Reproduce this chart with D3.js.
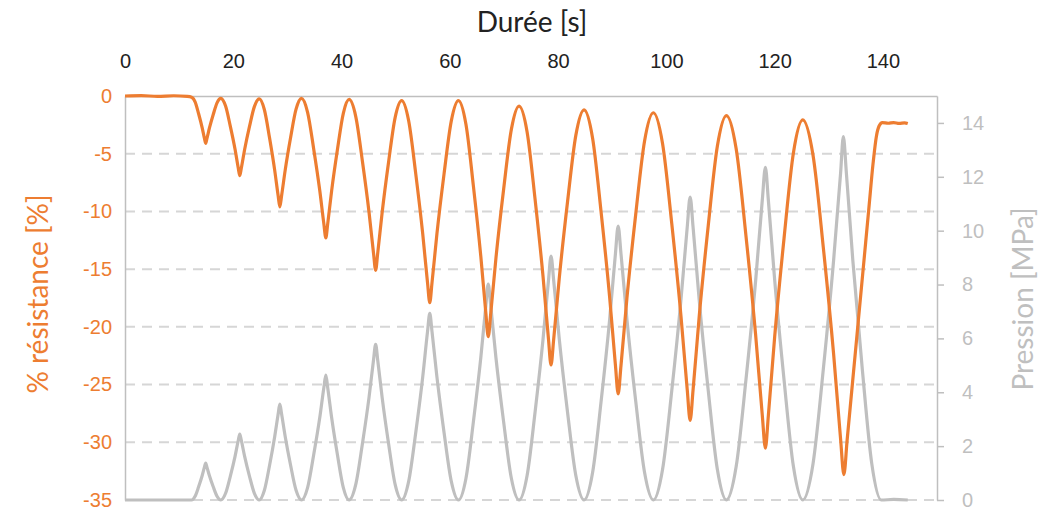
<!DOCTYPE html>
<html>
<head>
<meta charset="utf-8">
<script src="https://cdn.jsdelivr.net/npm/d3@7"></script>
<style>
    body { margin: 0; background: #fff; }
    svg { font-family: Lato, "Liberation Sans", sans-serif; }
</style>
</head>
<body>
<div id="chart"></div>
<script>
// time [s] and % résistance
const resistanceTime = [
    0, 3, 6, 9, 11.5, 12.3,
    12.95, 13.6, 14.25, 14.69, 14.9, 15.12, 15.6, 16.3, 17.0, 17.7,
    18.58, 19.45, 20.33, 20.92, 21.2, 21.49, 22.1, 23.0, 23.9, 24.8,
    25.75, 26.7, 27.65, 28.3, 28.6, 28.92, 29.6, 30.6, 31.6, 32.6,
    33.73, 34.85, 35.98, 36.74, 37.1, 37.44, 38.17, 39.25, 40.33, 41.4,
    42.63, 43.85, 45.08, 45.91, 46.3, 46.68, 47.5, 48.7, 49.9, 51.1,
    52.4, 53.7, 55.0, 55.88, 56.3, 56.72, 57.62, 58.95, 60.28, 61.6,
    62.98, 64.35, 65.73, 66.66, 67.1, 67.56, 68.52, 69.95, 71.38, 72.8,
    74.28, 75.75, 77.23, 78.23, 78.7, 79.19, 80.22, 81.75, 83.28, 84.8,
    86.38, 87.95, 89.53, 90.6, 91.1, 91.62, 92.72, 94.35, 95.98, 97.6,
    99.3, 101.0, 102.7, 103.86, 104.4, 104.94, 106.07, 107.75, 109.43, 111.1,
    112.9, 114.7, 116.5, 117.72, 118.3, 118.85, 120.02, 121.75, 123.48, 125.2,
    127.1, 129.0, 130.9, 132.19, 132.8, 133.4, 134.4, 135.4, 136.4, 137.4,
    138.2, 138.8, 139.3, 139.9, 141.0, 142.0, 143.0, 144.0, 144.6
];
const resistance = [
    0, 0.03, -0.03, 0.02, -0.03, -0.1,
    -0.5, -1.54, -2.74, -3.7, -4.1, -3.71, -2.77, -1.6, -0.59, -0.2,
    -0.87, -2.61, -4.62, -6.23, -6.9, -6.24, -4.64, -2.64, -0.92, -0.25,
    -1.19, -3.62, -6.42, -8.67, -9.6, -8.66, -6.4, -3.58, -1.14, -0.2,
    -1.41, -4.56, -8.19, -11.09, -12.3, -11.1, -8.22, -4.62, -1.5, -0.3,
    -1.78, -5.63, -10.07, -13.62, -15.1, -13.63, -10.1, -5.69, -1.87, -0.4,
    -2.15, -6.7, -11.95, -16.15, -17.9, -16.15, -11.95, -6.7, -2.15, -0.4,
    -2.45, -7.76, -13.9, -18.81, -20.85, -18.85, -14.06, -8.06, -2.87, -0.87,
    -3.11, -8.94, -15.67, -21.06, -23.3, -21.09, -15.79, -9.16, -3.41, -1.2,
    -3.66, -10.06, -17.44, -23.34, -25.8, -23.37, -17.52, -10.22, -3.89, -1.45,
    -4.12, -11.04, -19.04, -25.44, -28.1, -25.46, -19.12, -11.2, -4.34, -1.7,
    -4.58, -12.07, -20.71, -27.62, -30.5, -27.66, -20.83, -12.3, -4.91, -2.07,
    -5.14, -13.13, -22.35, -29.73, -32.8, -29.8, -24.8, -19.8, -14.8, -9.8,
    -5.8, -3.5, -2.6, -2.3, -2.36, -2.3, -2.38, -2.32, -2.38
];

// time [s] and pression [MPa]
const pressureTime = [
    0, 6, 12.3,
    12.95, 13.6, 14.25, 14.69, 14.9, 15.12, 15.6, 16.3, 17.0, 17.7,
    18.58, 19.45, 20.33, 20.92, 21.2, 21.49, 22.1, 23.0, 23.9, 24.8,
    25.75, 26.7, 27.65, 28.3, 28.6, 28.92, 29.6, 30.6, 31.6, 32.6,
    33.73, 34.85, 35.98, 36.74, 37.1, 37.44, 38.17, 39.25, 40.33, 41.4,
    42.63, 43.85, 45.08, 45.91, 46.3, 46.68, 47.5, 48.7, 49.9, 51.1,
    52.4, 53.7, 55.0, 55.88, 56.3, 56.72, 57.62, 58.95, 60.28, 61.6,
    62.98, 64.35, 65.73, 66.66, 67.1, 67.56, 68.52, 69.95, 71.38, 72.8,
    74.28, 75.75, 77.23, 78.23, 78.7, 79.19, 80.22, 81.75, 83.28, 84.8,
    86.38, 87.95, 89.53, 90.6, 91.1, 91.62, 92.72, 94.35, 95.98, 97.6,
    99.3, 101.0, 102.7, 103.86, 104.4, 104.94, 106.07, 107.75, 109.43, 111.1,
    112.9, 114.7, 116.5, 117.72, 118.3, 118.85, 120.02, 121.75, 123.48, 125.2,
    127.1, 129.0, 130.9, 132.19, 132.7, 133.26, 134.45, 136.2, 137.95, 139.7,
    142.0, 144.6
];
const pressure = [
    0, 0, 0,
    0.14, 0.49, 0.9, 1.23, 1.37, 1.23, 0.9, 0.49, 0.14, 0,
    0.25, 0.88, 1.62, 2.21, 2.45, 2.21, 1.62, 0.88, 0.25, 0,
    0.36, 1.28, 2.35, 3.2, 3.56, 3.2, 2.35, 1.28, 0.36, 0,
    0.46, 1.67, 3.06, 4.18, 4.64, 4.18, 3.06, 1.67, 0.46, 0,
    0.58, 2.08, 3.81, 5.2, 5.78, 5.2, 3.81, 2.08, 0.58, 0,
    0.69, 2.49, 4.57, 6.24, 6.93, 6.24, 4.57, 2.49, 0.69, 0,
    0.8, 2.89, 5.29, 7.22, 8.02, 7.22, 5.29, 2.89, 0.8, 0,
    0.91, 3.26, 5.98, 8.15, 9.06, 8.15, 5.98, 3.26, 0.91, 0,
    1.02, 3.66, 6.71, 9.15, 10.17, 9.15, 6.71, 3.66, 1.02, 0,
    1.13, 4.05, 7.43, 10.13, 11.25, 10.13, 7.43, 4.05, 1.13, 0,
    1.24, 4.45, 8.15, 11.12, 12.35, 11.12, 8.15, 4.45, 1.24, 0,
    1.35, 4.86, 8.9, 12.14, 13.49, 12.14, 8.9, 4.86, 1.35, 0,
    0.02, 0
];

const xTicks = [0, 20, 40, 60, 80, 100, 120, 140];
const leftTicks = [0, -5, -10, -15, -20, -25, -30, -35];
const rightTicks = [0, 2, 4, 6, 8, 10, 12, 14];

const w = 1058;
const h = 512;
const plotLeft = 125, plotRight = 937, plotTop = 96, plotBottom = 500;

const orange = "#ED7D31";
const grey = "#BFBFBF";
const axisGrey = "#BFBFBF";

const xScale = d3.scaleLinear().domain([0, 150]).range([plotLeft, plotRight]);
const yLeft = d3.scaleLinear().domain([-35, 0]).range([plotBottom, plotTop]);
const yRight = d3.scaleLinear().domain([0, 15]).range([plotBottom, plotTop]);

// plain hyphen for negatives, like the original
const plain = (d) => String(d);

const svg = d3.select("#chart")
    .append("svg")
    .attr("width", w)
    .attr("height", h);

// dashed gridlines on left scale
svg.append("g")
    .selectAll("line")
    .data(leftTicks.filter((d) => d !== 0))
    .enter()
    .append("line")
    .attr("x1", plotLeft)
    .attr("x2", plotRight)
    .attr("y1", (d) => yLeft(d))
    .attr("y2", (d) => yLeft(d))
    .attr("stroke", "#D6D6D6")
    .attr("stroke-width", 2)
    .attr("stroke-dasharray", "10,7");

// top x axis
const xAxis = d3.axisTop(xScale).tickValues(xTicks).tickFormat(plain).tickSize(0).tickPadding(28);
const gx = svg.append("g")
    .attr("transform", `translate(0,${plotTop})`)
    .call(xAxis);
gx.select(".domain").attr("stroke", axisGrey).attr("stroke-width", 1.5);
gx.selectAll("text").attr("fill", "#222").style("font-size", "20px");

// left y axis
const yAxisLeft = d3.axisLeft(yLeft).tickValues(leftTicks).tickFormat(plain).tickSize(0).tickPadding(13);
const gl = svg.append("g")
    .attr("transform", `translate(${plotLeft},0)`)
    .call(yAxisLeft);
gl.select(".domain").attr("stroke", axisGrey).attr("stroke-width", 1.5);
gl.selectAll("text").attr("fill", orange).style("font-size", "20px");

// right y axis
const yAxisRight = d3.axisRight(yRight).tickValues(rightTicks).tickFormat(plain).tickSize(7).tickSizeOuter(0).tickPadding(18);
const gr = svg.append("g")
    .attr("transform", `translate(${plotRight},0)`)
    .call(yAxisRight);
gr.select(".domain").attr("stroke", axisGrey).attr("stroke-width", 1.5);
gr.selectAll("line").attr("stroke", axisGrey).attr("stroke-width", 1.5);
gr.selectAll("text").attr("fill", "#BFBFBF").style("font-size", "20px");

// series
const pressureLine = d3.line()
    .x((d, i) => xScale(pressureTime[i]))
    .y((d) => yRight(d))
    .curve(d3.curveMonotoneX);

const resistanceLine = d3.line()
    .x((d, i) => xScale(resistanceTime[i]))
    .y((d) => yLeft(d))
    .curve(d3.curveMonotoneX);

svg.append("path")
    .datum(pressure)
    .attr("fill", "none")
    .attr("stroke", grey)
    .attr("stroke-width", 3.2)
    .attr("stroke-linejoin", "round")
    .attr("d", pressureLine);

svg.append("path")
    .datum(resistance)
    .attr("fill", "none")
    .attr("stroke", orange)
    .attr("stroke-width", 3.2)
    .attr("stroke-linejoin", "round")
    .attr("d", resistanceLine);

// titles
svg.append("text")
    .attr("x", 532)
    .attr("y", 32)
    .attr("text-anchor", "middle")
    .attr("fill", "#222")
    .style("font-size", "28px")
    .text("Durée [s]");

svg.append("text")
    .attr("transform", "translate(48,294) rotate(-90)")
    .attr("text-anchor", "middle")
    .attr("fill", orange)
    .style("font-size", "28px")
    .text("% résistance [%]");

svg.append("text")
    .attr("transform", "translate(1033,299) rotate(-90)")
    .attr("text-anchor", "middle")
    .attr("fill", "#BFBFBF")
    .style("font-size", "28px")
    .text("Pression [MPa]");
</script>
</body>
</html>
